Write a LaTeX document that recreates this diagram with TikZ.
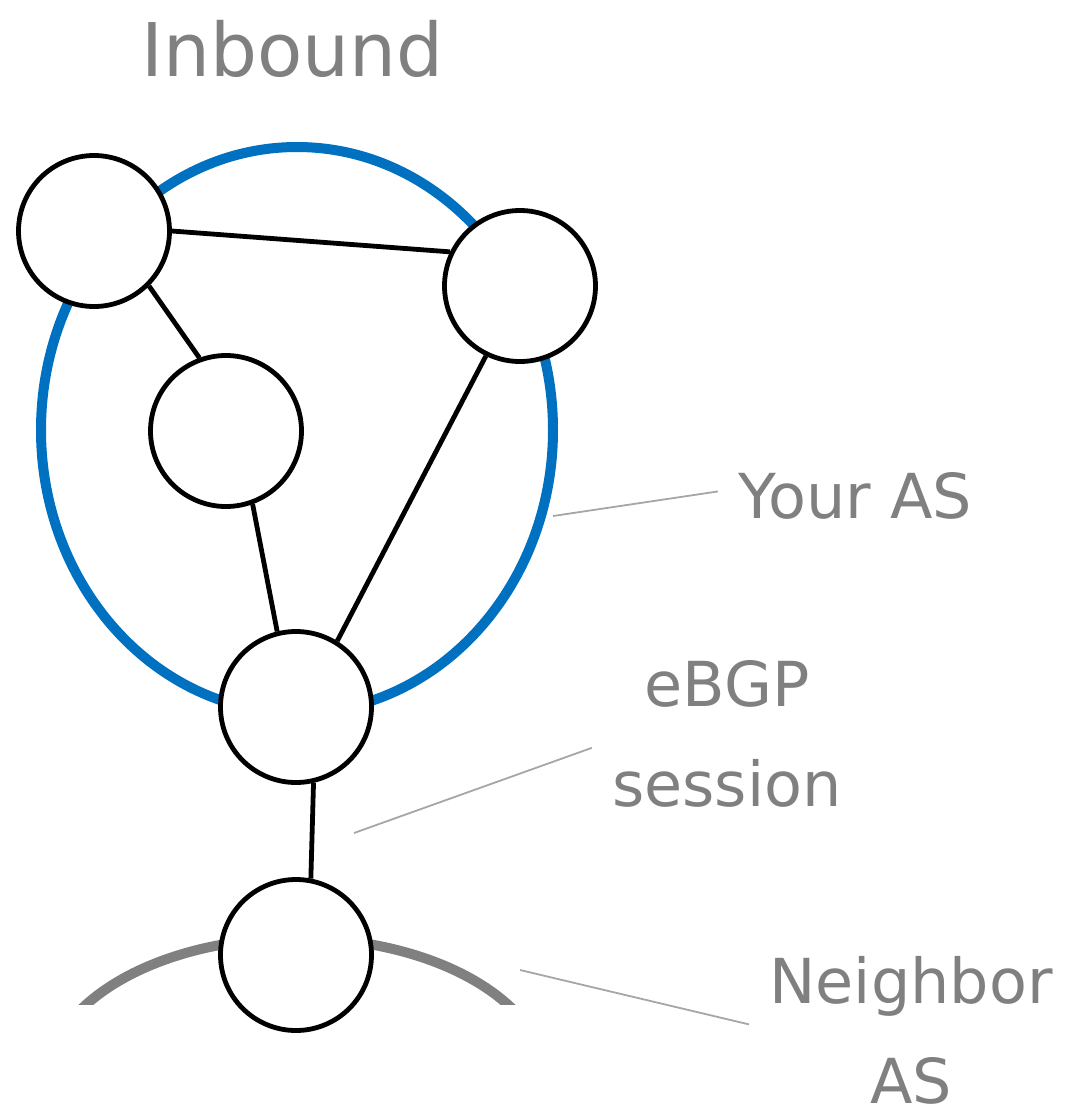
\documentclass[tikz,border=0pt]{standalone}
\usepackage{fontspec}
\setmainfont{DejaVu Sans}
\definecolor{asblue}{HTML}{0070C0}
\definecolor{labelgray}{HTML}{808080}
\definecolor{pointergray}{HTML}{A6A6A6}
\tikzset{
  router/.style = {circle, draw=black, line width=2.4pt, fill=white,
                   minimum size=75.5pt, inner sep=0pt},
  link/.style = {draw=black, line width=2.4pt},
  lbl/.style = {text=labelgray, font=\fontsize{31}{50}\selectfont, inner sep=10pt},
  pointer/.style = {draw=pointergray, line width=0.9pt}
}

\begin{document}
\begin{tikzpicture}[x=0.5pt,y=-0.5pt]
  \useasboundingbox (0,0) rectangle (1066,1110);
  % title
  \node[lbl, font=\fontsize{37}{44}\selectfont, anchor=base] (title) at (292.5,76) {Inbound};
  % your AS
  \draw[asblue, line width=5pt] (297,430) ellipse [x radius=256, y radius=283];
  % neighbor AS
  \begin{scope}
    \clip (0,0) rectangle (1066,1004);
    \draw[labelgray, line width=5pt] (297,1082) ellipse [x radius=250, y radius=144];
  \end{scope}
  % routers
  \node[router] (aRouter) at (94,231) {};
  \node[router] (bRouter) at (520,286) {};
  \node[router] (cRouter) at (226,431) {};
  \node[router] (dRouter) at (296,707) {};
  \node[router] (eRouter) at (296,955) {};
  % links
  \draw[link] (aRouter.east) -- (bRouter.154);
  \draw[link] (aRouter.-45) -- (cRouter.110);
  \draw[link] (bRouter.-116) -- (dRouter.58);
  \draw[link] (cRouter.-70) -- (dRouter.104);
  \draw[link] (dRouter.-77) -- (eRouter.79);
  % labels
  \node[lbl, anchor=base west] (yourAs) at (718,518) {Your AS};
  \node[lbl, anchor=north, align=center] (ebgp) at (727,640) {eBGP\\session};
  \node[lbl, anchor=north, align=center, inner ysep=2pt] (neighborAs) at (911,952) {Neighbor\\AS};
  % pointers
  \coordinate (yourAsTip) at (553,516);
  \coordinate (ebgpTip) at (354,833);
  \coordinate (neighborTip) at (520,970);
  \draw[pointer] (yourAsTip) -- ([yshift=2pt]yourAs.west);
  \draw[pointer] (ebgpTip) -- ([yshift=-7pt]ebgp.west);
  \draw[pointer] (neighborTip) -- ([yshift=3pt]neighborAs.west);
\end{tikzpicture}
\end{document}
